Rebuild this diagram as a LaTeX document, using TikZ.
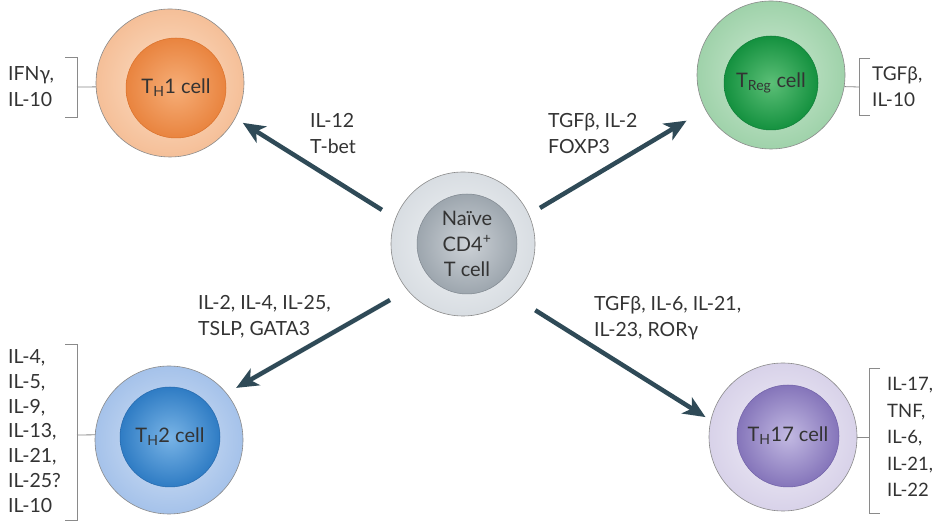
\documentclass[tikz,border=0pt]{standalone}
\usepackage{fontspec}
\setmainfont{Lato}
\usetikzlibrary{arrows.meta}
\definecolor{txt}{HTML}{333333}
\definecolor{arrowc}{HTML}{2F4A57}
\definecolor{brkc}{HTML}{8A8A8A}
\definecolor{thAo}{HTML}{FCE0C8}\definecolor{thAe}{HTML}{F5BF98}
\definecolor{thAd}{HTML}{D9702A}\definecolor{thAi}{HTML}{F6AE78}\definecolor{thAx}{HTML}{E9843F}
\definecolor{trgo}{HTML}{CDE9D2}\definecolor{trge}{HTML}{9FD2AA}
\definecolor{trgd}{HTML}{0F7D38}\definecolor{trgi}{HTML}{5CBF77}\definecolor{trgx}{HTML}{14913F}
\definecolor{thBo}{HTML}{D5E3F5}\definecolor{thBe}{HTML}{A5C2EA}
\definecolor{thBd}{HTML}{2468AC}\definecolor{thBi}{HTML}{79B4E6}\definecolor{thBx}{HTML}{2F7CC4}
\definecolor{thCo}{HTML}{F2F0F8}\definecolor{thCe}{HTML}{D8D2E9}
\definecolor{thCd}{HTML}{6F60A6}\definecolor{thCi}{HTML}{C2B9E2}\definecolor{thCx}{HTML}{8575BA}
\definecolor{nvo}{HTML}{F2F4F6}\definecolor{nve}{HTML}{D8DDE2}
\definecolor{nvd}{HTML}{7F878F}\definecolor{nvi}{HTML}{CDD2D7}\definecolor{nvx}{HTML}{9DA6AE}
\begin{document}
\begin{tikzpicture}[x=1pt,y=1pt,
  outer/.style={circle, minimum size=148pt, inner sep=0pt, draw=brkc, line width=0.6pt},
  innr/.style={circle, minimum size=100pt, inner sep=0pt, line width=0.5pt, font=\fontsize{20}{25}\selectfont, text=txt, align=center},
  lbl/.style={font=\fontsize{19.5}{26}\selectfont, text=txt, align=left, inner sep=0pt},
  arr/.style={line width=4.5pt, draw=arrowc, -{Stealth[length=22pt,width=19pt,inset=6pt]}},
  brk/.style={draw=brkc, line width=0.8pt}]
\useasboundingbox (0,0) rectangle (936,521);
\fill[white] (0,0) rectangle (936,521);

% cells
\node[outer, inner color=thAo, outer color=thAe] (th1) at (170,438) {};
\node[innr, draw=thAd, inner color=thAi, outer color=thAx] (th1in) at (176,433) {T\textsubscript{H}1 cell};

\node[outer, inner color=trgo, outer color=trge] (treg) at (771,446) {};
\node[innr, minimum size=94pt, draw=trgd, inner color=trgi, outer color=trgx] (tregin) at (771,438) {T\textsubscript{Reg} cell};

\node[outer, inner color=thBo, outer color=thBe] (th2) at (169,81) {};
\node[innr, draw=thBd, inner color=thBi, outer color=thBx] (th2in) at (170,84) {T\textsubscript{H}2 cell};

\node[outer, inner color=thCo, outer color=thCe] (th17) at (783,84) {};
\node[innr, minimum size=102pt, draw=thCd, inner color=thCi, outer color=thCx] (th17in) at (788,85) {T\textsubscript{H}17 cell};

\node[outer, minimum size=144pt, inner color=nvo, outer color=nve] (naive) at (463,277) {};
\node[innr, draw=nvd, inner color=nvi, outer color=nvx, font=\fontsize{20}{25.5}\selectfont] (naivein) at (467,277) {Naïve\\CD4\textsuperscript{+}\\T cell};

% arrows
\draw[arr] ([shift={(157.2:88pt)}]naive.center) -- ([shift={(-28.7:83pt)}]th1.center);
\draw[arr] ([shift={(25.1:85pt)}]naive.center) -- ([shift={(208.4:96pt)}]treg.center);
\draw[arr] ([shift={(217.5:92pt)}]naive.center) -- ([shift={(37.8:85pt)}]th2.center);
\draw[arr] ([shift={(-42.5:98pt)}]naive.center) -- ([shift={(165.6:80pt)}]th17.center);

% arrow labels
\node[lbl, anchor=north west] (l1) at (310,408) {IL-12\\T-bet};
\node[lbl, anchor=north west] (l2) at (548,408) {TGFβ, IL-2\\FOXP3};
\node[lbl, anchor=north west] (l3) at (198,226) {IL-2, IL-4, IL-25,\\TSLP, GATA3};
\node[lbl, anchor=north west] (l4) at (594,225) {TGFβ, IL-6, IL-21,\\IL-23, RORγ};

% brackets
\coordinate (b1) at (77,434);
\draw[brk] (th1.183) -- (b1);
\draw[brk] (65,464) -- (77,464) -- (77,404) -- (65,404);
\node[lbl, anchor=west] (t1) at (8,434) {IFNγ,\\IL-10};

\coordinate (b2) at (859,434);
\draw[brk] (treg.-9) -- (b2);
\draw[brk] (870,463) -- (859,463) -- (859,406) -- (870,406);
\node[lbl, anchor=west, font=\fontsize{19}{26}\selectfont] (t2) at (872,434) {TGFβ,\\IL-10};

\coordinate (b3) at (77,86);
\draw[brk] (th2.176) -- (b3);
\draw[brk] (65,177) -- (77,177) -- (77,1) -- (65,1);
\node[lbl, anchor=west, font=\fontsize{19.5}{24.8}\selectfont] (t3) at (8,90) {IL-4,\\IL-5,\\IL-9,\\IL-13,\\IL-21,\\IL-25?\\IL-10};

\coordinate (b4) at (869,84);
\draw[brk] (th17.east) -- (b4);
\draw[brk] (880,153) -- (869,153) -- (869,8) -- (880,8);
\node[lbl, anchor=west, font=\fontsize{18.5}{26.5}\selectfont] (t4) at (887,84) {IL-17,\\TNF,\\IL-6,\\IL-21,\\IL-22};
\end{tikzpicture}
\end{document}
